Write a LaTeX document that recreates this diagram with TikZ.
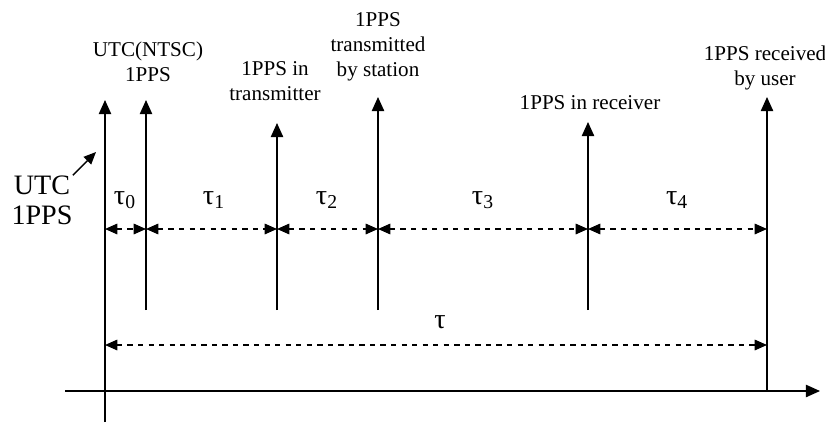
\documentclass[tikz,border=0pt]{standalone}
\usepackage{fontspec}
\setmainfont{Liberation Serif}
\usetikzlibrary{arrows.meta}
\tikzset{
  pulse/.style={line width=0.8pt,-{Triangle[width=7pt,length=8pt]}},
  gap/.style={dashed,line width=0.8pt,{Triangle[width=6pt,length=7pt]}-{Triangle[width=6pt,length=7pt]}},
  lbl/.style={font=\fontsize{12}{14.2}\selectfont,align=center,inner sep=0pt},
  taulbl/.style={font=\fontsize{16}{18}\selectfont,inner sep=0pt}
}
\begin{document}
\begin{tikzpicture}[x=0.02cm,y=-0.02cm]
  \useasboundingbox (0,0) rectangle (825,423);
  % pulse lines, bottom and top
  \coordinate (b0) at (105,422); \coordinate (t0) at (105,100);
  \coordinate (b1) at (146,310); \coordinate (t1) at (146,100);
  \coordinate (b2) at (277,310); \coordinate (t2) at (277,123);
  \coordinate (b3) at (378,310); \coordinate (t3) at (378,97);
  \coordinate (b4) at (588,310); \coordinate (t4) at (588,122);
  \coordinate (b5) at (767,391); \coordinate (t5) at (767,97);
  \draw[pulse] (b0) to (t0);
  \draw[pulse] (b1) to (t1);
  \draw[pulse] (b2) to (t2);
  \draw[pulse] (b3) to (t3);
  \draw[pulse] (b4) to (t4);
  \draw[pulse] (b5) to (t5);
  % time axis
  \coordinate (ax0) at (65,391); \coordinate (ax1) at (820,391);
  \draw[line width=0.8pt,-{Triangle[width=7pt,length=8pt]}] (ax0) to (ax1);
  % labels
  \node[lbl] (l1) at (148,62) {UTC(NTSC)\\1PPS};
  \node[lbl] (l2) at (275,81) {1PPS in\\transmitter};
  \node[lbl] (l3) at (378,47) {1PPS\\transmitted\\by station};
  \node[lbl] (l4) at (590,103) {1PPS in receiver};
  \node[lbl] (l5) at (765,68) {1PPS received\\by user};
  \node[align=center,inner sep=0pt,font=\fontsize{16}{17}\selectfont] (utc) at (42,200) {UTC\\1PPS};
  \coordinate (utcpt) at (96,152);
  \draw[line width=0.8pt,-{Triangle[width=6pt,length=7pt]}] (utc.north east) to (utcpt);
  % intervals
  \draw[gap] (105,229) to (146,229);
  \draw[gap] (146,229) to (277,229);
  \draw[gap] (277,229) to (378,229);
  \draw[gap] (378,229) to (588,229);
  \draw[gap] (588,229) to (767,229);
  \draw[gap] (105,345) to (767,345);
  \node[taulbl] (tau0) at (125,200) {τ\textsubscript{0}};
  \node[taulbl] (tau1) at (214,200) {τ\textsubscript{1}};
  \node[taulbl] (tau2) at (327,200) {τ\textsubscript{2}};
  \node[taulbl] (tau3) at (483,200) {τ\textsubscript{3}};
  \node[taulbl] (tau4) at (677,200) {τ\textsubscript{4}};
  \node[taulbl] (tau) at (440,322) {τ};
\end{tikzpicture}
\end{document}
